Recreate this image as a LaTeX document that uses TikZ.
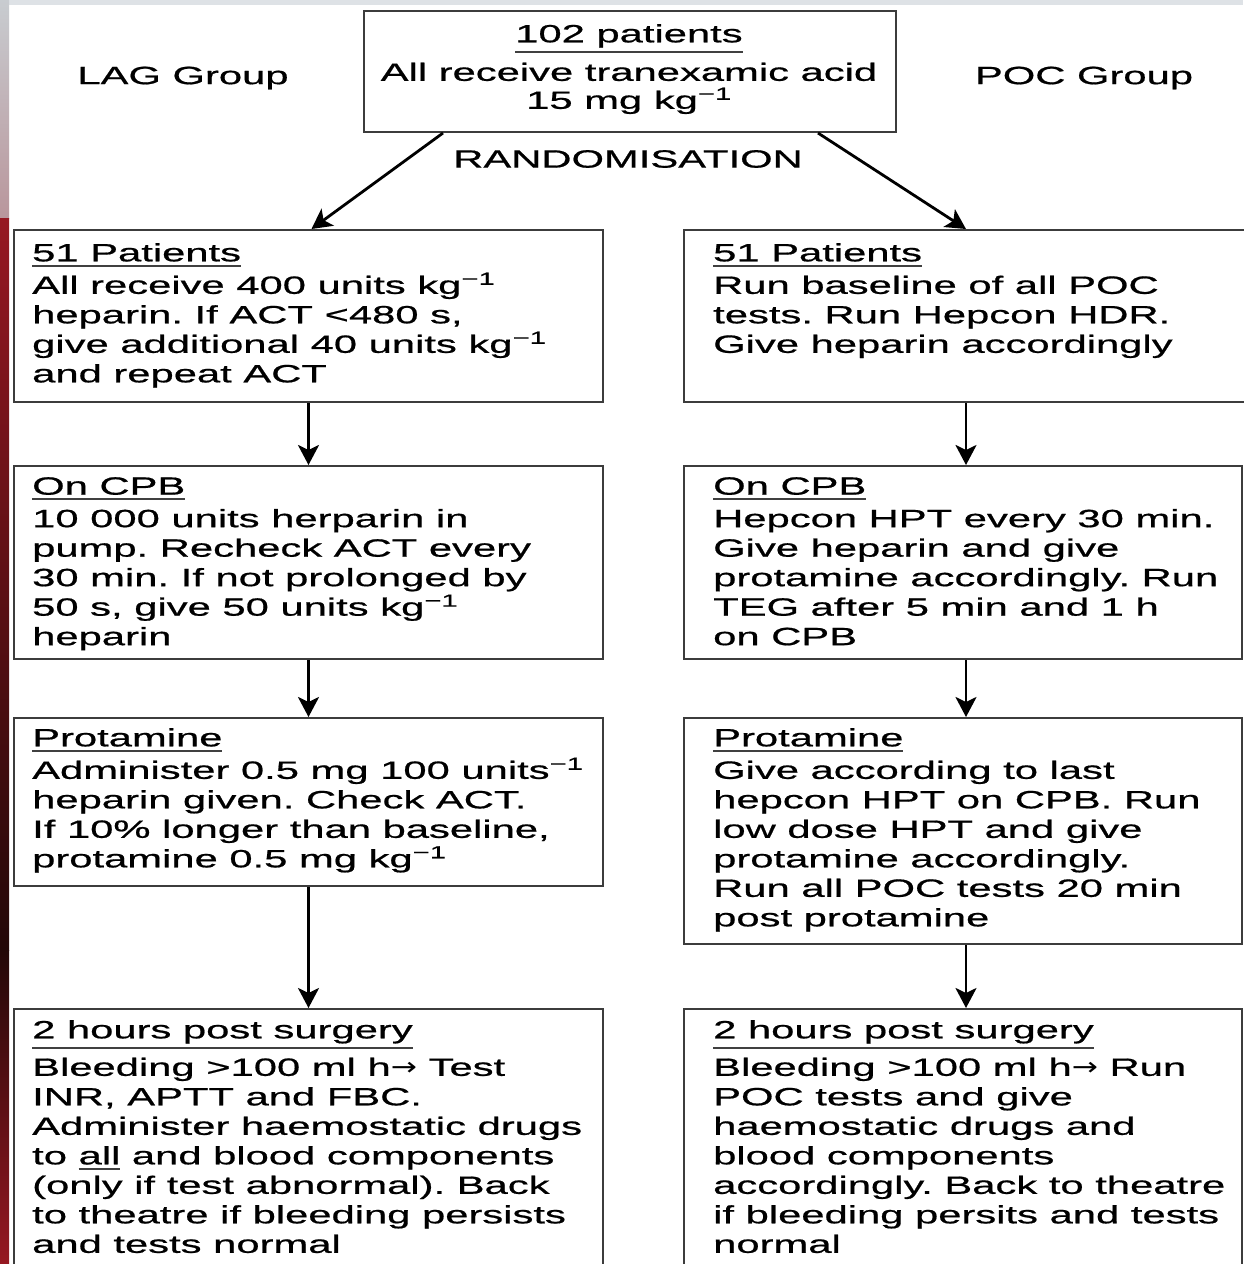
\documentclass[tikz,border=0pt]{standalone}
\usepackage{fontspec}
\setmainfont{Liberation Sans}[FakeStretch=1.67,FakeBold=0.7]
\newfontfamily\arrowfont{DejaVu Sans}[FakeStretch=1.25]
\usetikzlibrary{arrows.meta}
\definecolor{boxgray}{RGB}{60,60,60}
\definecolor{topgray}{RGB}{222,226,230}
\definecolor{sidegray}{RGB}{200,204,208}
\definecolor{sidered}{RGB}{150,24,34}
\definecolor{sidedark}{RGB}{35,8,8}
\newcommand\invsup{\textsuperscript{\char"2212 1}}
\newcommand\harrow{{\arrowfont\char"2192}}
\newcommand\ul[1]{\setbox0\hbox{#1}\leavevmode\rlap{\color{black!75}\rule[\dimexpr-\dp0-5pt\relax]{\wd0}{1.8pt}}\box0\relax}
\frenchspacing
\begin{document}
\begin{tikzpicture}[x=1pt,y=-1pt,
  box/.style={draw=boxgray, line width=2pt, anchor=north west, inner sep=0pt},
  txt/.style={anchor=north west, inner sep=0pt, align=left, text=black,
    font=\fontsize{25}{29.5}\selectfont\frenchspacing},
  lbl/.style={inner sep=0pt, text=black, font=\fontsize{25}{29.5}\selectfont\frenchspacing},
  arr/.style={line width=2.8pt, black, -{Stealth[length=20pt,width=21pt,inset=5pt]}}
]
\useasboundingbox (0,0) rectangle (1243,1264);
\fill[white] (0,0) rectangle (1243,1264);
% slide background edges
\fill[topgray] (0,0) rectangle (1243,5);
\shade[top color=sidegray, bottom color=sidegray!70!sidered] (0,0) rectangle (9,218);
\shade[top color=sidered, bottom color=sidedark] (0,218) rectangle (9,950);
\shade[top color=sidedark, bottom color=sidered] (0,950) rectangle (9,1264);

% top box
\node[box, minimum width=532, minimum height=121] (top) at (363,10) {};
\node[lbl, anchor=north, align=center] (ttop) at (629,24)
  {\ul{102 patients}\\[9pt] All receive tranexamic acid\\[-1.5pt] 15 mg kg\invsup};
\node[lbl] (lag) at (183,78) {LAG Group};
\node[lbl] (poc) at (1084,78) {POC Group};
\node[lbl] (rand) at (628,159) {RANDOMISATION};

% left column
\node[box, minimum width=589, minimum height=172] (l1) at (13,229) {};
\node[box, minimum width=589, minimum height=193] (l2) at (13,465) {};
\node[box, minimum width=589, minimum height=168] (l3) at (13,717) {};
\node[box, minimum width=589, minimum height=280] (l4) at (13,1008) {};
% right column
\node[box, minimum width=565, minimum height=172] (r1) at (683,229) {};
\node[box, minimum width=558, minimum height=193] (r2) at (683,465) {};
\node[box, minimum width=558, minimum height=226] (r3) at (683,717) {};
\node[box, minimum width=558, minimum height=280] (r4) at (683,1008) {};

\node[txt] (tl1) at (32,243) {\ul{51 Patients}\\[3pt]
  All receive 400 units kg\invsup\\
  heparin. If ACT <480 s,\\
  give additional 40 units kg\invsup\\
  and repeat ACT};
\node[txt] (tl2) at (32,477) {\ul{On CPB}\\[3pt]
  10 000 units herparin in\\
  pump. Recheck ACT every\\
  30 min. If not prolonged by\\
  50 s, give 50 units kg\invsup\\
  heparin};
\node[txt] (tl3) at (32,728) {\ul{Protamine}\\[3pt]
  Administer 0.5 mg 100 units\invsup\\
  heparin given. Check ACT.\\
  If 10\% longer than baseline,\\
  protamine 0.5 mg kg\invsup};
\node[txt] (tl4) at (32,1020) {\ul{2 hours post surgery}\\[8pt]
  Bleeding >100 ml h\harrow{} Test\\
  INR, APTT and FBC.\\
  Administer haemostatic drugs\\
  to \ul{all} and blood components\\
  (only if test abnormal). Back\\
  to theatre if bleeding persists\\
  and tests normal};

\node[txt] (tr1) at (713,243) {\ul{51 Patients}\\[3pt]
  Run baseline of all POC\\
  tests. Run Hepcon HDR.\\
  Give heparin accordingly};
\node[txt] (tr2) at (713,477) {\ul{On CPB}\\[3pt]
  Hepcon HPT every 30 min.\\
  Give heparin and give\\
  protamine accordingly. Run\\
  TEG after 5 min and 1 h\\
  on CPB};
\node[txt] (tr3) at (713,728) {\ul{Protamine}\\[3pt]
  Give according to last\\
  hepcon HPT on CPB. Run\\
  low dose HPT and give\\
  protamine accordingly.\\
  Run all POC tests 20 min\\
  post protamine};
\node[txt] (tr4) at (713,1020) {\ul{2 hours post surgery}\\[8pt]
  Bleeding >100 ml h\harrow{} Run\\
  POC tests and give\\
  haemostatic drugs and\\
  blood components\\
  accordingly. Back to theatre\\
  if bleeding persits and tests\\
  normal};

% connectors
\coordinate (ts1) at ([xshift=80pt]top.south west);
\coordinate (ts2) at ([xshift=-79pt]top.south east);
\draw[arr] (ts1) -- ([xshift=3pt]l1.north);
\draw[arr] (ts2) -- ([xshift=3pt]r1.north -| r2.north);
\draw[arr] (l1.south) -- (l2.north);
\draw[arr] (l2.south) -- (l3.north);
\draw[arr] (l3.south) -- (l4.north);
\draw[arr] ([xshift=3pt]r1.south -| r2.north) -- ([xshift=3pt]r2.north);
\draw[arr] ([xshift=3pt]r2.south) -- ([xshift=3pt]r3.north);
\draw[arr] ([xshift=3pt]r3.south) -- ([xshift=3pt]r4.north);
\end{tikzpicture}
\end{document}
